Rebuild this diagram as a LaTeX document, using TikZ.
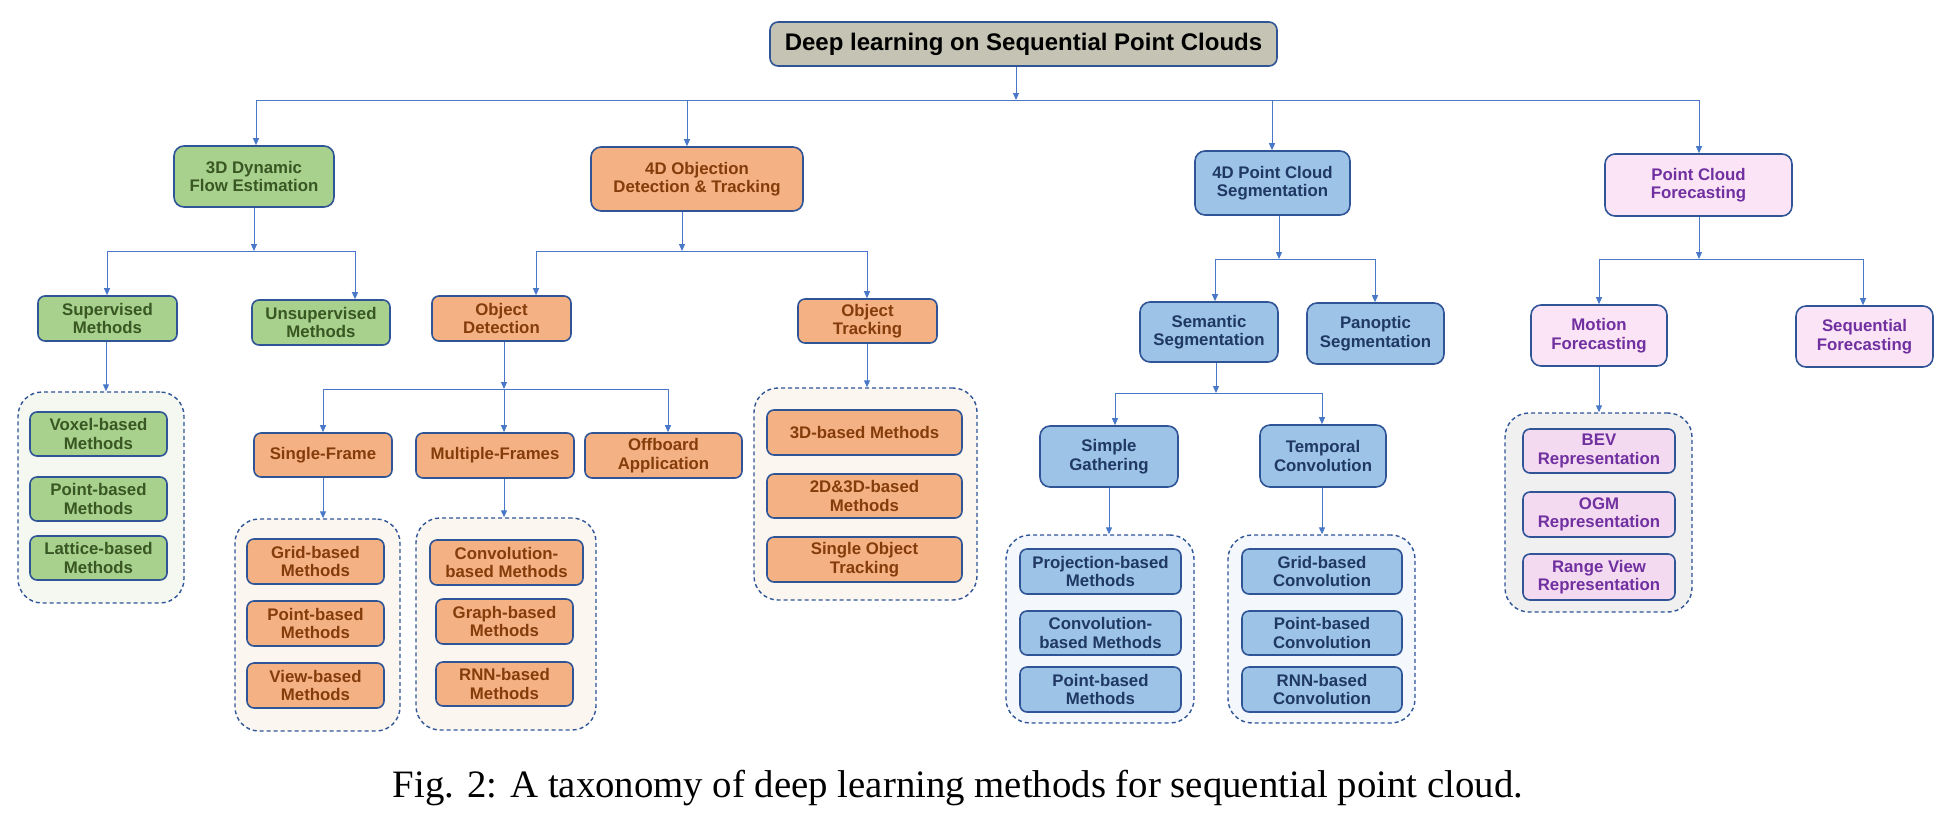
\documentclass[tikz,border=0pt]{standalone}
\usepackage{fontspec}
\setmainfont{Liberation Serif}
\setsansfont{Liberation Sans}
\usetikzlibrary{arrows.meta}
\definecolor{bord}{HTML}{2F5597}
\definecolor{lnc}{HTML}{4A78C8}
\definecolor{rootfill}{HTML}{C5C4B4}
\definecolor{gfill}{HTML}{A9D18E}
\definecolor{gtext}{HTML}{385723}
\definecolor{ofill}{HTML}{F4B183}
\definecolor{otext}{HTML}{843C0B}
\definecolor{bfill}{HTML}{9DC3E6}
\definecolor{btext}{HTML}{1F3864}
\definecolor{pfill}{HTML}{FCE4F7}
\definecolor{pfillb}{HTML}{F4DAF0}
\definecolor{ptext}{HTML}{7030A0}
\definecolor{ggrp}{HTML}{F5F8F1}
\definecolor{ogrp}{HTML}{FBF6F0}
\definecolor{bgrp}{HTML}{F4F7FC}
\definecolor{pgrp}{HTML}{F0F0F0}
\tikzset{
  box/.style={draw=bord, line width=0.8pt, rounded corners=3.5pt, align=center, inner sep=1pt,
    font=\sffamily\bfseries\fontsize{8.4}{9.2}\selectfont},
  bigbox/.style={box, rounded corners=5pt},
  gbox/.style={box, fill=gfill, text=gtext},
  obox/.style={box, fill=ofill, text=otext},
  bbox/.style={box, fill=bfill, text=btext},
  pbox/.style={box, fill=pfill, text=ptext},
  pboxb/.style={box, fill=pfillb, text=ptext},
  grp/.style={draw=bord, dash pattern=on 2pt off 1.5pt, line width=0.7pt, rounded corners=12pt},
  ln/.style={draw=lnc, line width=0.5pt},
  arr/.style={ln, -{Triangle[length=3.5pt,width=3pt]}},
}
\begin{document}
\begin{tikzpicture}[x=0.5pt,y=-0.5pt]
\useasboundingbox (0,0) rectangle (1955,826);
% root
\node[box, rounded corners=4pt, fill=rootfill, text=black, minimum width=253.5pt, minimum height=22pt,
  font=\sffamily\bfseries\fontsize{12}{14}\selectfont] (root) at (1023.5,44) {Deep learning on Sequential Point Clouds};
% level 1
\node[bigbox, fill=gfill, text=gtext, minimum width=80pt, minimum height=30.5pt] (dyn) at (254,176.5) {3D Dynamic\\Flow Estimation};
\node[bigbox, fill=ofill, text=otext, minimum width=106pt, minimum height=32pt] (odt) at (697,179) {4D Objection\\Detection \& Tracking};
\node[bigbox, fill=bfill, text=btext, minimum width=77.5pt, minimum height=32pt] (seg) at (1272.5,183) {4D Point Cloud\\Segmentation};
\node[bigbox, fill=pfill, text=ptext, minimum width=93.5pt, minimum height=31pt] (fc) at (1698.5,185) {Point Cloud\\Forecasting};
% level 2
\node[gbox, minimum width=69.5pt, minimum height=22.5pt] (sup) at (107.5,318.5) {Supervised\\Methods};
\node[gbox, minimum width=69pt, minimum height=22.5pt] (unsup) at (321,322.5) {Unsupervised\\Methods};
\node[obox, minimum width=69.5pt, minimum height=22.5pt] (od) at (501.5,318.5) {Object\\Detection};
\node[obox, minimum width=69.5pt, minimum height=22pt] (ot) at (867.5,321) {Object\\Tracking};
\node[bbox, rounded corners=5pt, minimum width=69pt, minimum height=30pt] (sem) at (1209,332) {Semantic\\Segmentation};
\node[bbox, rounded corners=5pt, minimum width=68.5pt, minimum height=30.5pt] (pan) at (1375.5,333.5) {Panoptic\\Segmentation};
\node[pbox, rounded corners=5pt, minimum width=68pt, minimum height=30.5pt] (mf) at (1599,335.5) {Motion\\Forecasting};
\node[pbox, rounded corners=5pt, minimum width=68.5pt, minimum height=30.5pt] (sf) at (1864.5,336.5) {Sequential\\Forecasting};
% level 3
\node[obox, minimum width=69pt, minimum height=22pt] (sfr) at (323,455) {Single-Frame};
\node[obox, minimum width=79pt, minimum height=22.5pt] (mfr) at (495,455.5) {Multiple-Frames};
\node[obox, minimum width=78.5pt, minimum height=22.5pt] (off) at (663.5,455.5) {Offboard\\Application};
\node[bbox, rounded corners=5pt, minimum width=69pt, minimum height=30.5pt] (sg) at (1109,456.5) {Simple\\Gathering};
\node[bbox, rounded corners=5pt, minimum width=63pt, minimum height=31pt] (tc) at (1323,456) {Temporal\\Convolution};
% groups
\node[grp, fill=ggrp, minimum width=83pt, minimum height=105.5pt] (g1) at (101,497.5) {};
\node[grp, fill=ogrp, minimum width=82.5pt, minimum height=106pt] (g2) at (317.5,625) {};
\node[grp, fill=ogrp, minimum width=90pt, minimum height=106pt] (g3) at (506,624) {};
\node[grp, fill=ogrp, minimum width=111.5pt, minimum height=106pt] (g4) at (865.5,494) {};
\node[grp, fill=bgrp, minimum width=94pt, minimum height=94pt] (g5) at (1100,629) {};
\node[grp, fill=bgrp, minimum width=93.5pt, minimum height=94pt] (g6) at (1321.5,629) {};
\node[grp, fill=pgrp, minimum width=93.5pt, minimum height=99.5pt] (g7) at (1598.5,512.5) {};
% leaves g1
\node[gbox, minimum width=68.5pt, minimum height=22pt] (vox) at (98.5,434) {Voxel-based\\Methods};
\node[gbox, minimum width=68.5pt, minimum height=22pt] (pnt) at (98.5,499) {Point-based\\Methods};
\node[gbox, minimum width=68.5pt, minimum height=22pt] (lat) at (98.5,558) {Lattice-based\\Methods};
% leaves g2
\node[obox, minimum width=68.5pt, minimum height=22.5pt] (grid) at (315.5,561.5) {Grid-based\\Methods};
\node[obox, minimum width=68.5pt, minimum height=22.5pt] (pb) at (315.5,623.5) {Point-based\\Methods};
\node[obox, minimum width=68.5pt, minimum height=22.5pt] (vb) at (315.5,685.5) {View-based\\Methods};
% leaves g3
\node[obox, minimum width=76.5pt, minimum height=22.5pt] (conv) at (506.5,562.5) {Convolution-\\based Methods};
\node[obox, minimum width=68.5pt, minimum height=22.5pt] (graph) at (504.5,621.5) {Graph-based\\Methods};
\node[obox, minimum width=68.5pt, minimum height=22pt] (rnn) at (504.5,684) {RNN-based\\Methods};
% leaves g4
\node[obox, minimum width=97.5pt, minimum height=22.5pt] (d3) at (864.5,432.5) {3D-based Methods};
\node[obox, minimum width=97.5pt, minimum height=22pt] (d23) at (864.5,496) {2D\&3D-based\\Methods};
\node[obox, minimum width=97.5pt, minimum height=22.5pt] (sot) at (864.5,559.5) {Single Object\\Tracking};
% leaves g5
\node[bbox, minimum width=80.5pt, minimum height=22.5pt] (proj) at (1100.5,571.5) {Projection-based\\Methods};
\node[bbox, minimum width=80.5pt, minimum height=22pt] (convm) at (1100.5,633) {Convolution-\\based Methods};
\node[bbox, minimum width=80.5pt, minimum height=22.5pt] (pbm) at (1100.5,689.5) {Point-based\\Methods};
% leaves g6
\node[bbox, minimum width=80pt, minimum height=22.5pt] (gridc) at (1322,571.5) {Grid-based\\Convolution};
\node[bbox, minimum width=80pt, minimum height=22pt] (pointc) at (1322,633) {Point-based\\Convolution};
\node[bbox, minimum width=80pt, minimum height=22.5pt] (rnnc) at (1322,689.5) {RNN-based\\Convolution};
% leaves g7
\node[pboxb, minimum width=76pt, minimum height=22pt] (bev) at (1599,451) {BEV\\Representation};
\node[pboxb, minimum width=76pt, minimum height=22.5pt] (ogm) at (1599,514.5) {OGM\\Representation};
\node[pboxb, minimum width=76pt, minimum height=23pt] (rv) at (1599,577) {Range View\\Representation};
% caption
\node[font=\fontsize{19.4}{22}\selectfont] (cap) at (958,788) {Fig. 2: A taxonomy of deep learning methods for sequential point cloud.};
% connectors: root
\coordinate (j0) at (1016,100);
\coordinate (a1) at (256,100);
\coordinate (a2) at (687,100);
\coordinate (a3) at (1272,100);
\coordinate (a4) at (1699,100);
\draw[arr] (j0 |- root.south) -- (j0);
\draw[ln] (a1) -- (a4);
\draw[arr] (a1) -- (a1 |- dyn.north);
\draw[arr] (a2) -- (a2 |- odt.north);
\draw[arr] (a3) -- (a3 |- seg.north);
\draw[arr] (a4) -- (a4 |- fc.north);
% dyn
\coordinate (j1) at (254,251);
\coordinate (b1) at (107,251);
\coordinate (b2) at (355,251);
\draw[arr] (j1 |- dyn.south) -- (j1);
\draw[ln] (b1) -- (b2);
\draw[arr] (b1) -- (b1 |- sup.north);
\draw[arr] (b2) -- (b2 |- unsup.north);
% odt
\coordinate (j2) at (682,251);
\coordinate (c1) at (536,251);
\coordinate (c2) at (867,251);
\draw[arr] (j2 |- odt.south) -- (j2);
\draw[ln] (c1) -- (c2);
\draw[arr] (c1) -- (c1 |- od.north);
\draw[arr] (c2) -- (c2 |- ot.north);
% seg
\coordinate (j3) at (1279,259);
\coordinate (d1) at (1215,259);
\coordinate (d2) at (1375,259);
\draw[arr] (j3 |- seg.south) -- (j3);
\draw[ln] (d1) -- (d2);
\draw[arr] (d1) -- (d1 |- sem.north);
\draw[arr] (d2) -- (d2 |- pan.north);
% fc
\coordinate (j4) at (1699,259);
\coordinate (e1) at (1599,259);
\coordinate (e2) at (1863,259);
\draw[arr] (j4 |- fc.south) -- (j4);
\draw[ln] (e1) -- (e2);
\draw[arr] (e1) -- (e1 |- mf.north);
\draw[arr] (e2) -- (e2 |- sf.north);
% sup -> g1
\coordinate (k1) at (106,360);
\draw[arr] (k1 |- sup.south) -- (k1 |- g1.north);
% od
\coordinate (j5) at (504,389);
\coordinate (f1) at (323,389);
\coordinate (f2) at (668,389);
\draw[arr] (j5 |- od.south) -- (j5);
\draw[ln] (f1) -- (f2);
\draw[arr] (f1) -- (f1 |- sfr.north);
\draw[arr] (j5) -- (j5 |- mfr.north);
\draw[arr] (f2) -- (f2 |- off.north);
% ot -> g4
\coordinate (k4) at (867,360);
\draw[arr] (k4 |- ot.south) -- (k4 |- g4.north);
% sfr -> g2, mfr -> g3
\coordinate (k2) at (323,500);
\coordinate (k3) at (504,500);
\draw[arr] (k2 |- sfr.south) -- (k2 |- g2.north);
\draw[arr] (k3 |- mfr.south) -- (k3 |- g3.north);
% sem
\coordinate (j6) at (1216,393);
\coordinate (h1) at (1115,393);
\coordinate (h2) at (1322,393);
\draw[arr] (j6 |- sem.south) -- (j6);
\draw[ln] (h1) -- (h2);
\draw[arr] (h1) -- (h1 |- sg.north);
\draw[arr] (h2) -- (h2 |- tc.north);
% sg -> g5, tc -> g6
\coordinate (k5) at (1109,510);
\coordinate (k6) at (1322,510);
\draw[arr] (k5 |- sg.south) -- (k5 |- g5.north);
\draw[arr] (k6 |- tc.south) -- (k6 |- g6.north);
% mf -> g7
\coordinate (k7) at (1599,390);
\draw[arr] (k7 |- mf.south) -- (k7 |- g7.north);
\end{tikzpicture}
\end{document}
